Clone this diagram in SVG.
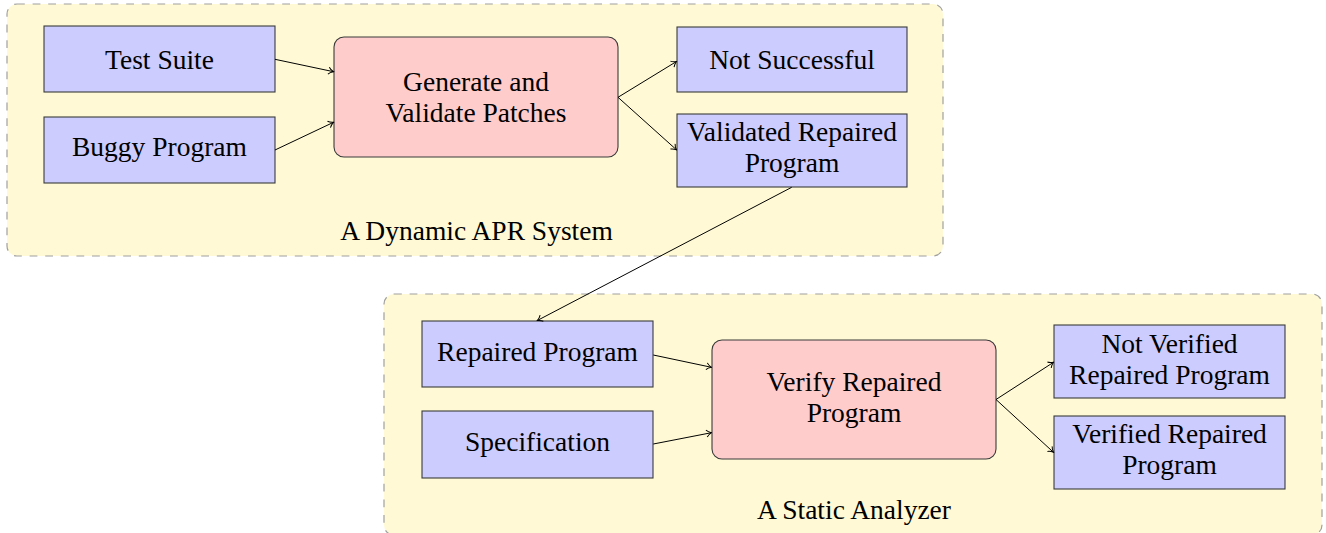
<svg xmlns="http://www.w3.org/2000/svg" width="1326" height="533" viewBox="0 0 1326 533">
<style>
.container{fill:#fffad5;stroke:#a0a0a0;stroke-width:1.2;stroke-dasharray:7.8 7.8}
.blue{fill:#ccccff;stroke:#3a3a3a;stroke-width:1.1}
.red{fill:#ffcccc;stroke:#3a3a3a;stroke-width:1.1}
text{font-family:"Liberation Serif",serif;font-size:27.5px;fill:#000;text-anchor:middle}
.conn line{stroke:#000;stroke-width:1;fill:none;marker-end:url(#arr)}
</style>
<defs>
<marker id="arr" viewBox="-6 -5 7 10" refX="0" refY="0" markerWidth="7" markerHeight="10" orient="auto" markerUnits="userSpaceOnUse">
<path d="M-5,-3.5 C-3.5,-1.5 -1,-0.4 0,0 C-1,0.4 -3.5,1.5 -5,3.5" fill="none" stroke="#000" stroke-width="1"/>
</marker>
</defs>
<rect width="1326" height="533" fill="#ffffff"/>
<g id="dynamic-apr">
<rect class="container" x="7" y="4" width="936" height="252" rx="10"/>
<text x="476.5" y="240">A Dynamic APR System</text>
</g>
<g id="static-analyzer">
<rect class="container" x="384" y="294" width="938" height="241" rx="10"/>
<text x="854" y="519">A Static Analyzer</text>
</g>
<g id="test-suite">
<rect class="blue" x="44" y="26" width="231" height="66"/>
<text x="159.5" y="69">Test Suite</text>
</g>
<g id="buggy-program">
<rect class="blue" x="44" y="117" width="231" height="66"/>
<text x="159.5" y="156">Buggy Program</text>
</g>
<g id="generate-validate">
<rect class="red" x="334" y="37" width="284" height="120" rx="10"/>
<text x="476" y="91">Generate and</text>
<text x="476" y="122">Validate Patches</text>
</g>
<g id="not-successful">
<rect class="blue" x="677" y="27" width="230" height="65"/>
<text x="792" y="68.5">Not Successful</text>
</g>
<g id="validated-repaired">
<rect class="blue" x="677" y="114" width="230" height="73"/>
<text x="792" y="141">Validated Repaired</text>
<text x="792" y="172">Program</text>
</g>
<g id="repaired-program">
<rect class="blue" x="422" y="321" width="231" height="66"/>
<text x="537.5" y="361">Repaired Program</text>
</g>
<g id="specification">
<rect class="blue" x="422" y="411" width="231" height="67"/>
<text x="537.5" y="451">Specification</text>
</g>
<g id="verify-repaired">
<rect class="red" x="712" y="340" width="284" height="119" rx="10"/>
<text x="854" y="391">Verify Repaired</text>
<text x="854" y="422">Program</text>
</g>
<g id="not-verified">
<rect class="blue" x="1054" y="325" width="231" height="73"/>
<text x="1169.5" y="353">Not Verified</text>
<text x="1169.5" y="383.5">Repaired Program</text>
</g>
<g id="verified">
<rect class="blue" x="1054" y="416" width="231" height="73"/>
<text x="1169.5" y="442.5">Verified Repaired</text>
<text x="1169.5" y="474">Program</text>
</g>
<g id="connectors" class="conn">
<line x1="275" y1="59.3" x2="333.5" y2="71.7"/>
<line x1="275" y1="150" x2="333.5" y2="122.3"/>
<line x1="618" y1="97.3" x2="676.5" y2="61.5"/>
<line x1="618" y1="97.3" x2="676.5" y2="149.8"/>
<line x1="791.7" y1="187.3" x2="537.3" y2="320.5"/>
<line x1="653.3" y1="355" x2="711.5" y2="367.3"/>
<line x1="653.3" y1="444" x2="711.5" y2="432.7"/>
<line x1="996" y1="399.5" x2="1053.5" y2="362.3"/>
<line x1="996" y1="399.5" x2="1053.5" y2="452.3"/>
</g>
</svg>
